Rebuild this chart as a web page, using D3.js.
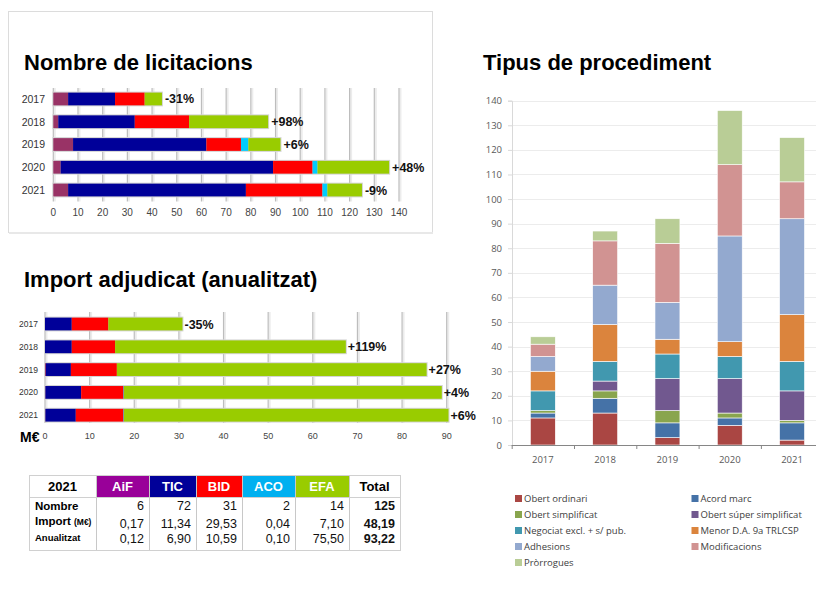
<!DOCTYPE html>
<html>
<head>
<meta charset="utf-8">
<script src="https://cdn.jsdelivr.net/npm/d3@7"></script>
<style>
  body { margin: 0; background: #fff; }
  svg { display: block; font-family: "Liberation Sans", Arial, sans-serif; }
</style>
</head>
<body>
<svg id="chart" width="816" height="614"></svg>
<script>
// data
const years = ["2017", "2018", "2019", "2020", "2021"];
const entities = ["AiF", "TIC", "BID", "ACO", "EFA"];
const entityColors = ["#993366", "#000099", "#ff0000", "#00ccff", "#99cc00"];

// Nombre de licitacions
const licitAiF = [6, 2, 8, 3, 6];
const licitTIC = [19, 31, 54, 86, 72];
const licitBID = [12, 22, 14, 16, 31];
const licitACO = [0, 0, 3, 2, 2];
const licitEFA = [7, 32, 13, 29, 14];
const licitChange = ["-31%", "+98%", "+6%", "+48%", "-9%"];
const licitTicks = d3.range(0, 141, 10);

// Import adjudicat (anualitzat), M€
const importAiF = [0, 0, 0.2, 0.1, 0.1];
const importTIC = [6.0, 6.0, 5.6, 8.0, 6.8];
const importBID = [8.2, 9.7, 10.3, 9.5, 10.7];
const importACO = [0, 0, 0, 0.1, 0.1];
const importEFA = [16.6, 51.7, 69.4, 71.2, 72.7];
const importChange = ["-35%", "+119%", "+27%", "+4%", "+6%"];
const importTicks = d3.range(0, 91, 10);

// Tipus de procediment
const procTypes = ["Obert ordinari", "Acord marc", "Obert simplificat", "Obert súper simplificat",
  "Negociat excl. + s/ pub.", "Menor D.A. 9a TRLCSP", "Adhesions", "Modificacions", "Pròrrogues"];
const procColors = ["#aa4643", "#4572a7", "#89a54e", "#71588f", "#4198af", "#db843d", "#93a9cf", "#d19392", "#b9cd96"];
const obertOrdinari = [11, 13, 3, 8, 2];
const acordMarc = [2, 6, 6, 3, 7];
const obertSimplificat = [1, 3, 5, 2, 1];
const obertSuper = [0, 4, 13, 14, 12];
const negociat = [8, 8, 10, 9, 12];
const menor = [8, 15, 6, 6, 19];
const adhesions = [6, 16, 15, 43, 39];
const modificacions = [5, 18, 24, 29, 15];
const prorrogues = [3, 4, 10, 22, 18];
const procTicks = d3.range(0, 141, 10);

// taula 2021
const tableHead = ["2021", "AiF", "TIC", "BID", "ACO", "EFA", "Total"];
const tableHeadColors = [null, "#990099", "#000099", "#ff0000", "#00b0f0", "#99cc00", null];
const tableNombre = ["6", "72", "31", "2", "14", "125"];
const tableImport = ["0,17", "11,34", "29,53", "0,04", "7,10", "48,19"];
const tableAnual = ["0,12", "6,90", "10,59", "0,10", "75,50", "93,22"];

const svg = d3.select("#chart");

// panel box round the first chart
svg.append("rect")
  .attr("x", 8.5).attr("y", 11.5).attr("width", 424).attr("height", 221)
  .attr("fill", "#fff").attr("stroke", "#dcdcdc");
svg.append("line")
  .attr("x1", 9).attr("x2", 433).attr("y1", 233).attr("y2", 233)
  .attr("stroke", "#e8e8e8").attr("stroke-width", 2);

// titles
const titles = [
  { text: "Nombre de licitacions", x: 24, y: 70 },
  { text: "Import adjudicat (anualitzat)", x: 24, y: 287 },
  { text: "Tipus de procediment", x: 483, y: 70 }
];
svg.selectAll(".title").data(titles).enter().append("text")
  .attr("class", "title")
  .attr("x", d => d.x).attr("y", d => d.y)
  .attr("font-size", 22).attr("font-weight", "bold").attr("fill", "#000")
  .text(d => d.text);

function hbars(opts) {
  const rows = years.map((y, i) => {
    const r = { year: y };
    entities.forEach((e, j) => r[e] = opts.series[j][i]);
    return r;
  });
  const stacked = d3.stack().keys(entities)(rows);

  const x = d3.scaleLinear().domain([0, opts.max]).range([opts.x0, opts.x1]);
  const y = d3.scaleBand().domain(years).range(opts.yRange)
    .paddingInner(0.44).paddingOuter(0.22);

  const g = svg.append("g");

  // gridlines
  const grid = g.selectAll(".grid").data(opts.ticks).enter().append("g");
  grid.append("line")
    .attr("x1", d => x(d) + 1.5).attr("x2", d => x(d) + 1.5)
    .attr("y1", opts.gridTop).attr("y2", opts.gridBottom)
    .attr("stroke", "#ececec").attr("stroke-width", 2);
  grid.append("line")
    .attr("x1", d => x(d)).attr("x2", d => x(d))
    .attr("y1", opts.gridTop).attr("y2", opts.gridBottom)
    .attr("stroke", "#bdbdbd").attr("stroke-width", 1.2);

  // bar outline
  g.selectAll(".outline").data(rows).enter().append("rect")
    .attr("x", x(0) - 1)
    .attr("y", d => y(d.year) - 1)
    .attr("width", d => x(d3.sum(entities, e => d[e])) - x(0) + 2)
    .attr("height", y.bandwidth() + 2)
    .attr("fill", "#d4d4d4");

  g.selectAll(".layer").data(stacked).enter().append("g")
    .attr("fill", (d, i) => entityColors[i])
    .selectAll("rect").data(d => d).enter().append("rect")
    .attr("x", d => x(d[0]))
    .attr("y", d => y(d.data.year))
    .attr("width", d => x(d[1]) - x(d[0]))
    .attr("height", y.bandwidth());

  // change labels
  g.selectAll(".chg").data(rows).enter().append("text")
    .attr("x", d => x(d3.sum(entities, e => d[e])) + opts.labelGap)
    .attr("y", d => y(d.year) + y.bandwidth() / 2)
    .attr("dy", "0.36em")
    .attr("font-size", 12.5).attr("font-weight", "bold").attr("fill", "#111")
    .text((d, i) => opts.change[i]);

  // year labels
  g.selectAll(".yr").data(years).enter().append("text")
    .attr("x", opts.yearX)
    .attr("y", d => y(d) + y.bandwidth() / 2)
    .attr("dy", "0.36em")
    .attr("text-anchor", "end")
    .attr("font-size", opts.yearSize).attr("fill", "#333")
    .text(d => d);

  // value axis labels
  g.selectAll(".tk").data(opts.ticks).enter().append("text")
    .attr("x", d => x(d)).attr("y", opts.tickY)
    .attr("text-anchor", "middle")
    .attr("font-size", opts.tickSize).attr("fill", "#444")
    .text(d => d);
  return g;
}

hbars({
  series: [licitAiF, licitTIC, licitBID, licitACO, licitEFA],
  change: licitChange, ticks: licitTicks, max: 140,
  x0: 53.3, x1: 399, yRange: [87.6, 201.4],
  gridTop: 88, gridBottom: 201.5, labelGap: 3,
  yearX: 45, yearSize: 10.5, tickY: 215.5, tickSize: 10
});

hbars({
  series: [importAiF, importTIC, importBID, importACO, importEFA],
  change: importChange, ticks: importTicks, max: 90,
  x0: 45, x1: 446.7, yRange: [312.6, 426.6],
  gridTop: 312, gridBottom: 423, labelGap: 2,
  yearX: 38, yearSize: 8.5, tickY: 439, tickSize: 9
});

svg.append("text")
  .attr("x", 20).attr("y", 442)
  .attr("font-size", 14).attr("font-weight", "bold").attr("fill", "#000")
  .text("M€");

// table
const colEdges = [29, 96, 149, 196, 242, 295, 349, 400];
const tTop = 475, tHead = 497, tBottom = 550;
const tg = svg.append("g");
tg.selectAll(".hcell").data(tableHead).enter().append("rect")
  .attr("x", (d, i) => colEdges[i]).attr("y", tTop)
  .attr("width", (d, i) => colEdges[i + 1] - colEdges[i]).attr("height", tHead - tTop)
  .attr("fill", (d, i) => tableHeadColors[i] || "#fff");
tg.selectAll(".htext").data(tableHead).enter().append("text")
  .attr("x", (d, i) => (colEdges[i] + colEdges[i + 1]) / 2).attr("y", (tTop + tHead) / 2)
  .attr("dy", "0.36em").attr("text-anchor", "middle")
  .attr("font-size", 13).attr("font-weight", "bold")
  .attr("fill", (d, i) => tableHeadColors[i] ? "#fff" : "#000")
  .text(d => d);
tg.selectAll(".vline").data(colEdges).enter().append("line")
  .attr("x1", d => d + 0.5).attr("x2", d => d + 0.5)
  .attr("y1", tTop).attr("y2", tBottom)
  .attr("stroke", "#c8c8c8");
tg.append("rect")
  .attr("x", 29.5).attr("y", tTop + 0.5).attr("width", 371).attr("height", tBottom - tTop)
  .attr("fill", "none").attr("stroke", "#d0d0d0");
tg.append("line")
  .attr("x1", 29).attr("x2", 400).attr("y1", tHead + 0.5).attr("y2", tHead + 0.5)
  .attr("stroke", "#d0d0d0");

const tableRows = [
  { values: tableNombre, y: 510 },
  { values: tableImport, y: 528 },
  { values: tableAnual, y: 543 }
];
tableRows.forEach(r => {
  tg.selectAll(null).data(r.values).enter().append("text")
    .attr("x", (d, i) => colEdges[i + 2] - 5).attr("y", r.y)
    .attr("text-anchor", "end")
    .attr("font-size", 12.5)
    .attr("font-weight", (d, i) => i === r.values.length - 1 ? "bold" : "normal")
    .attr("fill", "#111")
    .text(d => d);
});
tg.append("text").attr("x", 35).attr("y", 510)
  .attr("font-size", 11.5).attr("font-weight", "bold").text("Nombre");
const imp = tg.append("text").attr("x", 35).attr("y", 525)
  .attr("font-size", 11.5).attr("font-weight", "bold");
imp.append("tspan").text("Import ");
imp.append("tspan").attr("font-size", 8.5).text("(M€)");
tg.append("text").attr("x", 35).attr("y", 541)
  .attr("font-size", 9.5).attr("font-weight", "bold").text("Anualitzat");

// stacked columns
const procSeries = [obertOrdinari, acordMarc, obertSimplificat, obertSuper, negociat, menor, adhesions, modificacions, prorrogues];
const procRows = years.map((y, i) => {
  const r = { year: y };
  procTypes.forEach((t, j) => r[t] = procSeries[j][i]);
  return r;
});
const procStack = d3.stack().keys(procTypes)(procRows);

const px = d3.scaleBand().domain(years).range([511.7, 823.2]).paddingInner(0.6).paddingOuter(0.3);
const py = d3.scaleLinear().domain([0, 140]).range([445, 100.7]);
const pg = svg.append("g");

pg.selectAll(".pgrid").data(procTicks.slice(1)).enter().append("line")
  .attr("x1", 512).attr("x2", 816)
  .attr("y1", d => Math.round(py(d)) + 0.5).attr("y2", d => Math.round(py(d)) + 0.5)
  .attr("stroke", "#ececec");

pg.append("g")
  .attr("transform", "translate(512,0)")
  .call(d3.axisLeft(py).tickValues(procTicks).tickSize(4).tickPadding(6))
  .call(a => a.select(".domain").attr("stroke", "#d9d9d9"))
  .call(a => a.selectAll(".tick line").attr("stroke", "#d9d9d9"))
  .call(a => a.selectAll("text").attr("font-family", "'Open Sans', sans-serif").attr("font-size", 9.5).attr("fill", "#595959"));

pg.selectAll(".player").data(procStack).enter().append("g")
  .attr("fill", (d, i) => procColors[i])
  .selectAll("rect").data(d => d).enter().append("rect")
  .attr("x", d => px(d.data.year))
  .attr("y", d => py(d[1]))
  .attr("width", px.bandwidth())
  .attr("height", d => py(d[0]) - py(d[1]))
  .attr("stroke", "#fff").attr("stroke-width", 0.6);

const xAxis = pg.append("g").attr("transform", "translate(0,445)");
xAxis.append("line").attr("x1", 511.7).attr("x2", 816).attr("y1", 0.5).attr("y2", 0.5)
  .attr("stroke", "#868686");
xAxis.selectAll(".xt").data(d3.range(0, 6)).enter().append("line")
  .attr("x1", i => 511.7 + i * px.step() + 0.5).attr("x2", i => 511.7 + i * px.step() + 0.5)
  .attr("y1", 0).attr("y2", 4).attr("stroke", "#868686");
xAxis.selectAll(".xl").data(years).enter().append("text")
  .attr("x", d => px(d) + px.bandwidth() / 2).attr("y", 18)
  .attr("text-anchor", "middle")
  .attr("font-family", "'Open Sans', sans-serif").attr("font-size", 9.5).attr("fill", "#595959")
  .text(d => d);

// legend
const lg = pg.append("g");
const legendItems = lg.selectAll(".li").data(procTypes).enter().append("g")
  .attr("transform", (d, i) => `translate(${i % 2 === 0 ? 515 : 691.5},${498.5 + Math.floor(i / 2) * 16})`);
legendItems.append("rect")
  .attr("x", 0).attr("y", -3.5).attr("width", 7).attr("height", 7)
  .attr("fill", (d, i) => procColors[i]);
legendItems.append("text")
  .attr("x", 9).attr("y", 0).attr("dy", "0.36em")
  .attr("font-family", "'Open Sans', sans-serif").attr("font-size", 9.5).attr("fill", "#404040")
  .text(d => d);
</script>
</body>
</html>
